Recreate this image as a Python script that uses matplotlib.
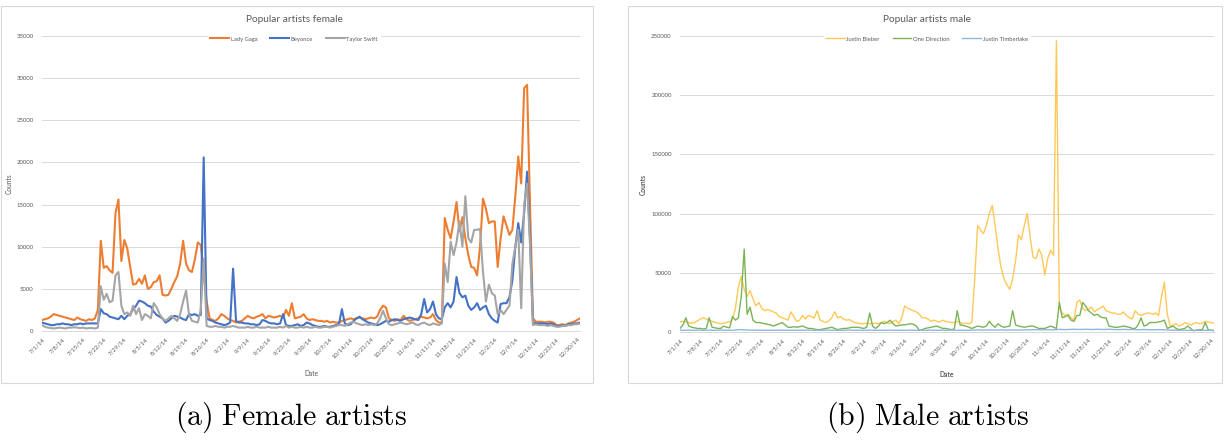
import numpy as np
import pandas as pd
import matplotlib
matplotlib.use("Agg")
import matplotlib.pyplot as plt
from matplotlib.patches import Rectangle

plt.rcParams['font.family'] = ['Lato', 'DejaVu Sans']
plt.rcParams['mathtext.fontset'] = 'cm'

# daily counts, 7/1/14 .. 12/31/14
dates = pd.date_range("2014-07-01", "2014-12-31", freq="D")

lady_gaga = [
    1300, 1400, 1500, 1700, 2000, 1900, 1800, 1700, 1600, 1500,
    1400, 1300, 1600, 1400, 1300, 1200, 1400, 1300, 1500, 2500,
    10700, 7500, 7700, 7200, 6900, 14000, 15600, 8300, 10800, 9800,
    7600, 5500, 5600, 6200, 5600, 6600, 5000, 5200, 5800, 5900,
    6600, 4300, 4200, 4300, 5000, 5800, 6500, 8000, 10700, 8000,
    7200, 7000, 8500, 10500, 10200, 7000, 3500, 1500, 1300, 1200,
    1500, 2000, 1800, 1500, 1300, 1200, 1000, 1100, 1200, 1500,
    1800, 1600, 1500, 1700, 1800, 2000, 1500, 1800, 1700, 1600,
    1700, 1800, 1600, 2500, 1800, 3300, 1500, 1600, 1700, 2000,
    1500, 1300, 1400, 1300, 1200, 1200, 1100, 1200, 1000, 1100,
    1000, 1000, 1200, 1300, 1400, 1500, 1400, 1500, 1600, 1500,
    1400, 1500, 1600, 1500, 1700, 2500, 3000, 2800, 1500, 1300,
    1200, 1400, 1300, 1800, 1400, 1200, 1300, 1400, 1500, 1700,
    1600, 1500, 1600, 2000, 1300, 1000, 1000, 13400, 12000, 11000,
    13000, 15300, 11800, 13500, 11000, 9000, 7600, 7500, 6600, 10000,
    15700, 14500, 12800, 13000, 13000, 7600, 11000, 13600, 12500, 11400,
    12000, 16000, 20700, 17500, 28800, 29200, 15000, 1500, 1100, 1100,
    1100, 1000, 1100, 1100, 1000, 700, 700, 800, 700, 900,
    1000, 1100, 1300, 1500,
]
beyonce = [
    1000, 900, 800, 700, 700, 800, 800, 900, 800, 800,
    700, 800, 800, 900, 800, 900, 900, 900, 900, 900,
    2600, 2100, 2000, 1700, 1600, 1500, 1400, 1800, 1400, 1800,
    2000, 2600, 3000, 3600, 3500, 3300, 3000, 2900, 2300, 1900,
    1700, 1500, 1000, 1200, 1500, 1800, 1700, 1600, 1400, 1300,
    2000, 1900, 2000, 1800, 1900, 20600, 1500, 1300, 1200, 1000,
    900, 800, 700, 800, 1000, 7400, 1200, 1000, 1000, 900,
    900, 800, 800, 700, 800, 1300, 1200, 1000, 900, 900,
    800, 900, 2000, 700, 600, 600, 700, 800, 600, 700,
    1000, 900, 700, 600, 500, 500, 600, 500, 500, 600,
    700, 800, 2600, 900, 700, 800, 1200, 1500, 1700, 1400,
    1200, 1000, 900, 800, 700, 800, 1000, 1200, 1100, 1300,
    1400, 1300, 1200, 1400, 1500, 1600, 1500, 1400, 1300, 2000,
    3800, 2200, 2600, 3500, 2000, 1500, 1400, 2800, 3300, 2800,
    3500, 6400, 4500, 4000, 4200, 3000, 2500, 2800, 3300, 2500,
    2800, 3000, 2000, 1500, 1200, 1000, 3200, 3300, 3300, 4000,
    6000, 10000, 12800, 10500, 14000, 18900, 11000, 1000, 900, 900,
    900, 900, 800, 900, 800, 600, 600, 700, 600, 800,
    800, 900, 900, 1000,
]
taylor_swift = [
    700, 500, 400, 350, 300, 350, 400, 350, 300, 400,
    400, 450, 400, 350, 400, 300, 350, 350, 300, 400,
    5300, 3700, 4400, 3400, 3600, 6600, 7000, 3000, 2000, 2200,
    1800, 3000, 2000, 2700, 1300, 2000, 1800, 1500, 3300, 2800,
    2000, 1500, 1200, 1500, 1800, 1500, 1200, 2000, 3500, 4800,
    2000, 1200, 1100, 1000, 2500, 8600, 600, 500, 500, 600,
    500, 500, 400, 500, 500, 600, 500, 400, 400, 400,
    500, 400, 400, 500, 400, 400, 400, 500, 400, 400,
    400, 500, 400, 600, 400, 500, 400, 400, 500, 400,
    500, 400, 400, 500, 400, 400, 500, 500, 400, 500,
    600, 700, 700, 600, 800, 1000, 1100, 900, 800, 700,
    800, 700, 800, 700, 900, 1500, 2400, 1500, 800, 700,
    800, 900, 1000, 900, 800, 900, 1000, 800, 700, 900,
    1000, 800, 700, 900, 800, 700, 900, 8000, 5800, 10600,
    9000, 10500, 13000, 10000, 16000, 11000, 10500, 12000, 12000, 12100,
    7000, 3500, 5500, 4500, 4200, 2000, 2500, 2000, 2500, 3000,
    8000, 10000, 12000, 2700, 15000, 17500, 10200, 700, 800, 700,
    700, 700, 600, 700, 600, 500, 500, 600, 600, 700,
    700, 800, 800, 900,
]

justin_bieber = [
    8500, 9000, 8500, 8000, 7500, 8000, 9500, 11000, 12000, 11000,
    10000, 9000, 8000, 7500, 7000, 7500, 8000, 8500, 11000, 20000,
    38000, 47000, 36000, 30000, 35000, 28000, 22000, 25000, 20000, 18000,
    19000, 18000, 17000, 16000, 13000, 12000, 11000, 10000, 17000, 13000,
    9000, 10000, 14000, 11000, 14000, 13000, 12000, 18000, 10000, 9000,
    8000, 9500, 12000, 17000, 12000, 13000, 11000, 10000, 10500, 9000,
    8000, 7500, 7000, 7000, 7500, 7000, 7000, 7500, 7000, 8000,
    9000, 8000, 7000, 9000, 10000, 7000, 12000, 22000, 20000, 19000,
    18000, 17000, 15000, 12000, 12000, 11000, 9000, 10000, 9000, 8500,
    10000, 9000, 8500, 8000, 8000, 9000, 8000, 7000, 7500, 7000,
    8000, 45000, 90000, 86000, 83000, 90000, 100000, 107000, 90000, 70000,
    55000, 45000, 40000, 36000, 45000, 60000, 82000, 78000, 90000, 100000,
    80000, 63000, 62000, 70000, 65000, 48000, 62000, 69000, 65000, 246000,
    20000, 16000, 14000, 15000, 12000, 10000, 25000, 27000, 20000, 18000,
    19000, 21000, 17000, 19000, 20000, 22000, 18000, 17000, 16000, 16000,
    15000, 15000, 17000, 14000, 12000, 11000, 18000, 15000, 14000, 15000,
    16000, 16000, 15000, 16000, 14000, 30000, 42000, 15000, 5000, 6000,
    7000, 5000, 6000, 8000, 7000, 6000, 7000, 8000, 7000, 7500,
    9000, 8500, 8000, 7500,
]
one_direction = [
    3000, 6000, 12000, 5000, 4000, 3500, 3000, 3000, 2500, 3000,
    12000, 4000, 3500, 3000, 3000, 5000, 4000, 3500, 13000, 10000,
    12000, 30000, 70000, 15000, 21000, 10000, 8000, 8000, 7500, 7000,
    6500, 6000, 5000, 6000, 7000, 8000, 6000, 4000, 4000, 4500,
    4000, 4500, 5000, 4000, 3000, 3000, 2500, 2000, 2000, 2500,
    3000, 3500, 4000, 3000, 2000, 2500, 3000, 3000, 3500, 4000,
    4000, 4000, 3500, 3000, 4000, 16000, 5000, 3000, 5000, 8000,
    7000, 8000, 10000, 7000, 5000, 5500, 6000, 6000, 6500, 7000,
    6500, 5000, 1500, 2000, 3000, 3500, 4000, 4500, 5000, 4000,
    3000, 3000, 2500, 2000, 2500, 18000, 6000, 5500, 5000, 4000,
    3000, 4000, 5000, 4500, 4000, 5000, 9000, 6000, 4000, 7000,
    5000, 4000, 4500, 5000, 18000, 6000, 5000, 4500, 4000, 4500,
    5000, 5000, 4000, 3000, 3000, 3000, 4000, 5000, 4000, 3000,
    25000, 12000, 13000, 14000, 10000, 9000, 14000, 14000, 25000, 22000,
    18000, 16000, 14000, 15000, 13000, 12000, 12000, 5000, 4500, 4000,
    4000, 4500, 5000, 4500, 4000, 3000, 3000, 6000, 12000, 5000,
    6000, 8000, 8000, 8000, 8500, 9000, 10000, 3000, 4000, 5000,
    3000, 2000, 2500, 3000, 5000, 3000, 1000, 1500, 2000, 2000,
    8000, 2000, 1500, 1000,
]
justin_timberlake = [
    1500, 1400, 1500, 1600, 1500, 1400, 1500, 1500, 1400, 1500,
    1600, 1500, 1400, 1500, 1500, 1600, 1500, 1400, 1500, 1700,
    2000, 1900, 1800, 1700, 1600, 1500, 1500, 1600, 1500, 1400,
    1500, 1500, 1400, 1500, 1600, 1500, 1400, 1500, 1500, 1400,
    1500, 1400, 1500, 1500, 1600, 1500, 1400, 1500, 1500, 1400,
    1500, 1600, 1500, 1400, 1500, 1500, 1400, 1500, 1600, 1500,
    1400, 1500, 1500, 1400, 1500, 1600, 1500, 1400, 1500, 1500,
    1400, 1500, 1600, 1500, 1400, 1500, 1500, 1400, 1500, 1600,
    1500, 1400, 1500, 1500, 1400, 1500, 1600, 1500, 1400, 1500,
    1500, 1400, 1500, 1600, 1500, 1400, 1500, 1500, 1400, 1500,
    1600, 1700, 1800, 1700, 1600, 1700, 1800, 1700, 1600, 1700,
    1800, 1700, 1600, 1700, 1800, 1700, 1600, 1700, 1800, 1700,
    1800, 1900, 2000, 1900, 1800, 1900, 2000, 1900, 1800, 2000,
    2200, 2100, 2000, 2100, 2200, 2300, 2200, 2100, 2200, 2300,
    2200, 2100, 2200, 2300, 2200, 2100, 2200, 2300, 2200, 2100,
    2000, 2100, 2200, 2100, 2000, 2100, 2000, 1900, 2000, 2100,
    2000, 1900, 1800, 1900, 2000, 1900, 1800, 1700, 1600, 1500,
    1500, 1400, 1500, 1500, 1400, 1500, 1400, 1500, 1400, 1500,
    1400, 1500, 1400, 1500,
]

female = [("Lady Gaga", lady_gaga, "#ED7D31"),
          ("Beyonce", beyonce, "#4472C4"),
          ("Taylor Swift", taylor_swift, "#A5A5A5")]
male = [("Justin Bieber", justin_bieber, "#FFC857"),
        ("One Direction", one_direction, "#7CB356"),
        ("Justin Timberlake", justin_timberlake, "#8DB8E2")]

W, H = 1225, 444
fig = plt.figure(figsize=(W / 100, H / 100), dpi=100)

txt = "#595959"
grid = "#D9D9D9"


def px_axes(x0, y0, x1, y1):
    return fig.add_axes([x0 / W, 1 - y1 / H, (x1 - x0) / W, (y1 - y0) / H])


def style(ax, series, ymax, ystep, lw, title, tx, bold):
    for name, vals, col in series:
        ax.plot(dates, vals, color=col, lw=lw, label=name, solid_joinstyle="round")
    ax.set_xlim(dates[0], dates[-1])
    ax.set_ylim(0, ymax)
    ax.set_yticks(np.arange(0, ymax + 1, ystep))
    ax.set_xticks(dates[::7])
    ax.set_xticklabels([f"{d.month}/{d.day}/{d.year % 100}" for d in dates[::7]],
                       rotation=45, ha="right", rotation_mode="anchor",
                       fontsize=4.3, color=txt)
    ax.tick_params(axis="y", labelsize=4.3, colors=txt, length=0, pad=6)
    ax.tick_params(axis="x", length=0, pad=4)
    ax.grid(axis="y", color=grid, lw=0.7)
    ax.set_axisbelow(True)
    for s in ["top", "right", "left"]:
        ax.spines[s].set_visible(False)
    ax.spines["bottom"].set_color(grid)
    ax.spines["bottom"].set_linewidth(0.7)
    fw = "bold" if bold else "normal"
    ax.set_xlabel("Date", fontsize=4.8, color=txt, labelpad=8, fontweight=fw)
    ax.set_ylabel("Counts", fontsize=4.8, color=txt, fontweight=fw)
    leg = ax.legend(loc="center", ncol=3, fontsize=4.2,
                    frameon=True, framealpha=1, edgecolor="white",
                    handlelength=3.2, handletextpad=0.3, columnspacing=2.2,
                    borderpad=0.4)
    for t in leg.get_texts():
        t.set_color(txt)
    leg.set_bbox_to_anchor((tx, 1 - 39 / H), transform=fig.transFigure)
    fig.text(tx, 1 - 20 / H, title, ha="center", va="center", fontsize=7.3, color=txt)


# chart area borders
fig.patches.append(Rectangle((1 / W, 1 - 383 / H), 592 / W, 377 / H, transform=fig.transFigure,
                             fill=False, ec=grid, lw=0.8))
fig.patches.append(Rectangle((628 / W, 1 - 383 / H), 594 / W, 377 / H, transform=fig.transFigure,
                             fill=False, ec=grid, lw=0.8))

ax1 = px_axes(42, 36, 580, 331)
style(ax1, female, 35000, 5000, 1.5, "Popular artists female", 294 / W, False)
ax1.yaxis.set_label_coords(-0.055, 0.5)

ax2 = px_axes(680, 36, 1214, 332)
style(ax2, male, 250000, 50000, 1.0, "Popular artists male", 927 / W, True)
ax2.yaxis.set_label_coords(-0.062, 0.5)

fig.text(291 / W, 1 - 417 / H, r"$\mathrm{(a)\ Female\ artists}$", ha="center", va="center",
         fontsize=21.5)
fig.text(928 / W, 1 - 417 / H, r"$\mathrm{(b)\ Male\ artists}$", ha="center", va="center",
         fontsize=21.5)

fig.savefig("out.png", dpi=100)
